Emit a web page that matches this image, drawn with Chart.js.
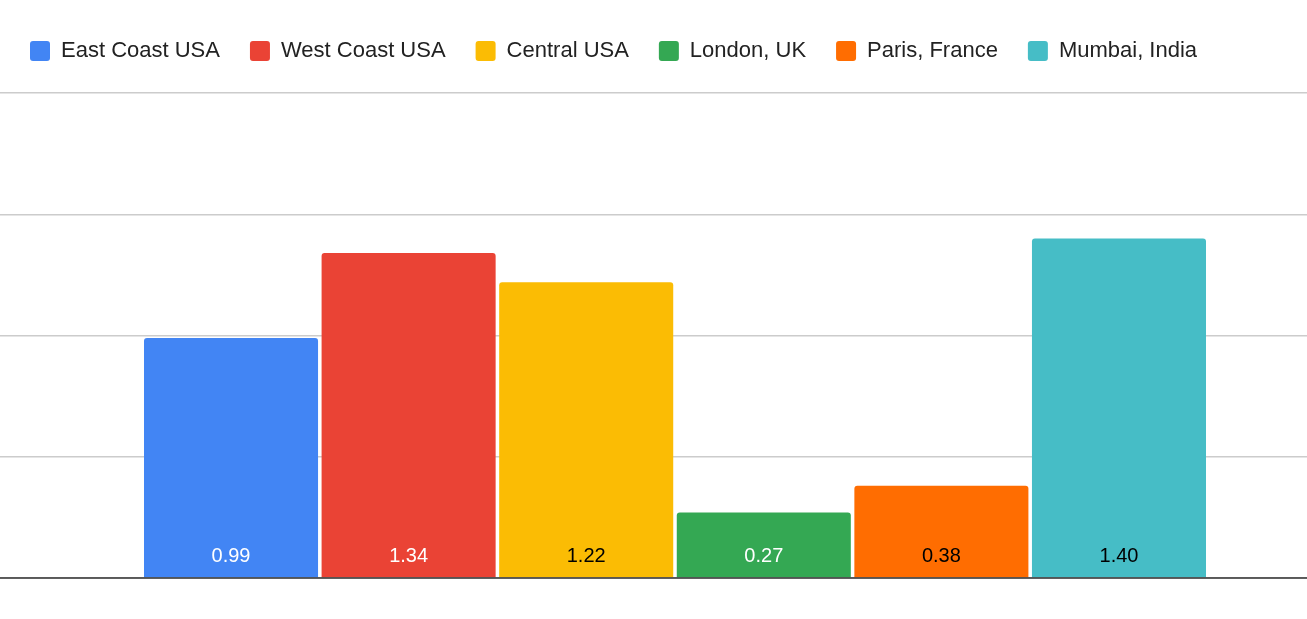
<!DOCTYPE html>
<html>
<head>
<meta charset="utf-8">
<script src="https://cdn.jsdelivr.net/npm/chart.js@4"></script>
<style>
  html, body { margin: 0; padding: 0; background: #fff; }
  #wrap { width: 1307px; height: 619px; }
</style>
</head>
<body>
<div id="wrap"><canvas id="chart"></canvas></div>
<script>
const regiones = ["East Coast USA", "West Coast USA", "Central USA", "London, UK", "Paris, France", "Mumbai, India"];
const valores = [0.99, 1.34, 1.22, 0.27, 0.38, 1.40];
const colores = ["#4285f4", "#ea4335", "#fbbc04", "#34a853", "#ff6d01", "#46bdc6"];
const coloresTexto = ["#fff", "#fff", "#000", "#fff", "#000", "#000"];

const etiquetas = {
    id: "etiquetas",
    afterDatasetsDraw(chart) {
        const ctx = chart.ctx;
        ctx.save();
        ctx.font = "20px 'Liberation Sans', Arial, sans-serif";
        ctx.textAlign = "center";
        ctx.textBaseline = "middle";
        chart.data.datasets.forEach((ds, i) => {
            const bar = chart.getDatasetMeta(i).data[0];
            ctx.fillStyle = coloresTexto[i];
            ctx.fillText(ds.data[0].toFixed(2), bar.x, bar.base - 21);
        });
        // linea base a todo lo ancho
        const y = chart.chartArea.bottom;
        ctx.strokeStyle = "#333";
        ctx.lineWidth = 1.5;
        ctx.beginPath();
        ctx.moveTo(0, y);
        ctx.lineTo(chart.width, y);
        ctx.stroke();
        ctx.restore();
    }
};

const alturaLeyenda = {
    id: "alturaLeyenda",
    beforeInit(chart) {
        const fitOriginal = chart.legend.fit;
        chart.legend.fit = function () {
            fitOriginal.bind(chart.legend)();
            this.height = 83;
        };
    }
};

new Chart(document.getElementById("chart"), {
    type: "bar",
    data: {
        labels: [""],
        datasets: regiones.map((r, i) => ({
            label: r,
            data: [valores[i]],
            backgroundColor: colores[i],
            borderRadius: { topLeft: 3, topRight: 3 },
            borderSkipped: "bottom",
            barPercentage: 0.98,
            categoryPercentage: 0.843
        }))
    },
    options: {
        responsive: true,
        maintainAspectRatio: false,
        animation: false,
        layout: { padding: { left: 0, right: 0, top: 10, bottom: 33 } },
        plugins: {
            tooltip: { enabled: false },
            legend: {
                position: "top",
                align: "start",
                labels: {
                    font: { family: "'Liberation Sans', Arial, sans-serif", size: 22 },
                    color: "#222",
                    boxWidth: 20,
                    boxHeight: 20,
                    useBorderRadius: true,
                    borderRadius: 3,
                    padding: 30
                }
            }
        },
        scales: {
            x: {
                grid: { display: false },
                border: { display: false },
                ticks: { display: false }
            },
            y: {
                min: 0,
                max: 2,
                ticks: { display: false, stepSize: 0.5 },
                border: { display: false },
                grid: { color: "#ccc", lineWidth: 1.5, drawTicks: true, tickLength: 43 }
            }
        }
    },
    plugins: [etiquetas, alturaLeyenda]
});
</script>
</body>
</html>
